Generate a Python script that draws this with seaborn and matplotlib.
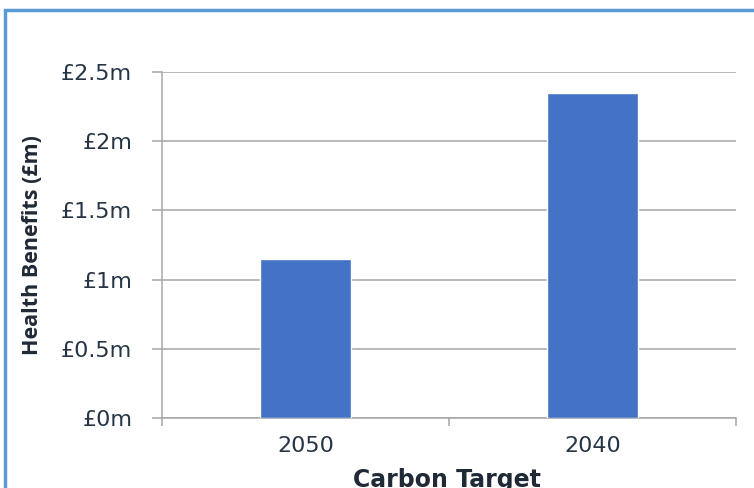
import matplotlib
matplotlib.use("Agg")
import matplotlib.pyplot as plt
import seaborn as sns
import pandas as pd
from matplotlib.patches import Rectangle

# Chart data
targets = ["2050", "2040"]
benefits_m = [1.15, 2.35]
y_ticks = [0, 0.5, 1, 1.5, 2, 2.5]
y_tick_labels = ["£0m", "£0.5m", "£1m", "£1.5m", "£2m", "£2.5m"]

df = pd.DataFrame({"target": targets, "benefit": benefits_m})

sns.set_style("white")
plt.rcParams["font.family"] = ["DejaVu Sans"]

TEXT = "#263545"
GRID = "#a6a6a6"

W, H = 754, 488
fig = plt.figure(figsize=(W / 100, H / 100), dpi=100)
ax = fig.add_axes([162 / W, 70 / H, (736 - 162) / W, 346 / H])

sns.barplot(data=df, x="target", y="benefit", order=targets,
            color="#4472C4", saturation=1, width=0.317, ax=ax, zorder=3)

ax.set_xlim(-0.5, len(targets) - 0.5)
ax.set_ylim(0, 2.5)

# y axis: ticks, gridlines, labels
ax.set_yticks(y_ticks)
ax.set_yticklabels(y_tick_labels)
ax.grid(axis="y", color=GRID, linewidth=1.1, zorder=0)
ax.tick_params(axis="y", which="major", length=7.5, width=1.1, color=GRID,
               direction="out", left=True, labelsize=16, labelcolor=TEXT, pad=14)

# x axis: boundary ticks between categories, labels centred on bars
ax.set_xticks([i - 0.5 for i in range(len(targets) + 1)])
ax.set_xticklabels([""] * (len(targets) + 1))
ax.set_xticks(range(len(targets)), minor=True)
ax.set_xticklabels(targets, minor=True)
ax.tick_params(axis="x", which="major", length=6, width=1.1, color=GRID,
               direction="out", bottom=True)
ax.tick_params(axis="x", which="minor", length=0, labelsize=16,
               labelcolor=TEXT, pad=13)

for side in ["top", "right"]:
    ax.spines[side].set_visible(False)
for side in ["left", "bottom"]:
    ax.spines[side].set_color(GRID)
    ax.spines[side].set_linewidth(1.1)

ax.set_xlabel("")
ax.set_ylabel("")
fig.text(447 / W, (H - 480) / H, "Carbon Target", ha="center", va="center",
         fontsize=17, fontweight="bold", color="#1f2a36")
fig.text(33 / W, (H - 245) / H, "Health Benefits (£m)", ha="center", va="center",
         rotation=90, fontsize=15.5, fontweight="bold", color="#1f2a36",
         family=["Open Sans", "DejaVu Sans"])

# outer frame
fig.patches.append(Rectangle((5 / W, -0.1), 1.2, (H - 10) / H + 0.1,
                             transform=fig.transFigure, fill=False,
                             edgecolor="#5B9BD5", linewidth=2.5))

fig.savefig("out.png", dpi=100)
